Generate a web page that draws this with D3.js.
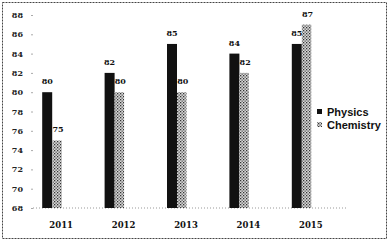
<!DOCTYPE html>
<html><head><meta charset="utf-8">
<script src="https://cdn.jsdelivr.net/npm/d3@7"></script>
<style>html,body{margin:0;padding:0;background:#fff;}svg{display:block;}</style>
</head><body>
<svg id="c" width="389" height="242"></svg>
<script>
const years = ["2011","2012","2013","2014","2015"];
const physics = [80, 82, 85, 84, 85];
const chemistry = [75, 80, 80, 82, 87];
const yTicks = [68,70,72,74,76,78,80,82,84,86,88];
const seriesNames = ["Physics","Chemistry"];

const svg = d3.select("#c");
const defs = svg.append("defs");
const pat = defs.append("pattern").attr("id","dots").attr("width",3).attr("height",3).attr("patternUnits","userSpaceOnUse");
pat.append("rect").attr("width",3).attr("height",3).attr("fill","#d8d8d8");
pat.append("rect").attr("x",0).attr("y",0).attr("width",1.3).attr("height",1.3).attr("fill","#333");
pat.append("rect").attr("x",1.5).attr("y",1.5).attr("width",1.3).attr("height",1.3).attr("fill","#555");

// border
svg.append("rect").attr("x",2.5).attr("y",2.5).attr("width",384).attr("height",236)
  .attr("fill","none").attr("stroke","#444").attr("stroke-width",1).attr("stroke-dasharray","2,1");

const x = d3.scaleBand().domain(years).range([21, 333]).padding(0);
const y = d3.scaleLinear().domain([68, 88]).range([208, 15]);

// baseline
svg.append("line").attr("x1",33).attr("x2",347).attr("y1",y(68)).attr("y2",y(68))
  .attr("stroke","#999").attr("stroke-dasharray","1,2");

// y axis
const yAxis = d3.axisLeft(y).tickValues(yTicks).tickSize(2).tickPadding(8);
const ga = svg.append("g").attr("transform","translate(33,0)").call(yAxis);
ga.select(".domain").remove();
ga.selectAll(".tick line").attr("stroke","#aaa");
ga.selectAll(".tick text").attr("font-family","DejaVu Serif").attr("font-weight","bold")
  .attr("font-size",8).attr("fill","#222");

// x labels
const xAxis = d3.axisBottom(x).tickSize(0).tickPadding(0);
const gx = svg.append("g").attr("transform",`translate(9,${y(68)+14})`).call(xAxis);
gx.select(".domain").remove();
gx.selectAll(".tick text").attr("font-family","DejaVu Serif").attr("font-weight","bold")
  .attr("font-size",8.5).attr("fill","#111");

const pw = 10, cw = 9.5;
const cx = d => x(d) + x.bandwidth()/2;

// physics bars
svg.append("g").selectAll("rect").data(years).join("rect")
  .attr("x", (d) => cx(d) - pw).attr("width", pw)
  .attr("y", (d,i) => y(physics[i])).attr("height", (d,i) => y(68) - y(physics[i]))
  .attr("fill","#111");
// chemistry bars
svg.append("g").selectAll("rect").data(years).join("rect")
  .attr("x", (d) => cx(d)).attr("width", cw)
  .attr("y", (d,i) => y(chemistry[i])).attr("height", (d,i) => y(68) - y(chemistry[i]))
  .attr("fill","url(#dots)");

// value labels
const lbl = {"font-family":"DejaVu Serif","font-weight":"bold","font-size":8,"fill":"#111","text-anchor":"middle"};
function applyAttrs(sel){ for (const k in lbl) sel.attr(k, lbl[k]); return sel; }
applyAttrs(svg.append("g").selectAll("text").data(years).join("text")
  .attr("x", d => cx(d) - pw/2).attr("y", (d,i) => y(physics[i]) - 8)
  .text((d,i) => physics[i]));
applyAttrs(svg.append("g").selectAll("text").data(years).join("text")
  .attr("x", d => cx(d) + cw/2 + 1).attr("y", (d,i) => y(chemistry[i]) - 8)
  .text((d,i) => chemistry[i]));

// legend
const lg = svg.append("g");
seriesNames.forEach((s,i) => {
  const yy = 112 + i*13;
  lg.append("rect").attr("x",317).attr("y",yy-3).attr("width",5).attr("height",5)
    .attr("fill", i===0 ? "#111" : "url(#dots)");
  lg.append("text").attr("x",327).attr("y",yy+4).text(s)
    .attr("font-family","Liberation Sans").attr("font-weight","bold").attr("font-size",11).attr("fill","#111");
});
</script>
</body></html>
